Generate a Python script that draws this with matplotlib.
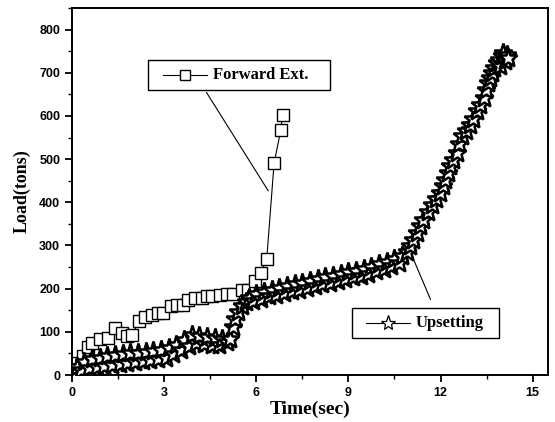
import matplotlib
matplotlib.use('Agg')
import matplotlib.pyplot as plt
from matplotlib.lines import Line2D
from matplotlib.patches import Rectangle
from matplotlib.ticker import MultipleLocator

# Forward extrusion: time (s) and load (tons)
fwd_time = [0.15, 0.36, 0.53, 0.66, 0.91, 1.18, 1.40, 1.62, 1.78, 1.96,
            2.18, 2.38, 2.60, 2.80, 2.97, 3.22, 3.41, 3.63, 3.79, 4.00,
            4.22, 4.39, 4.55, 4.82, 5.04, 5.25, 5.53, 5.74, 5.96, 6.14,
            6.34, 6.58, 6.80, 6.86]
fwd_load = [27, 44, 66, 74, 84, 86, 108, 97, 90, 93,
            125, 134, 139, 143, 143, 160, 162, 162, 174, 178,
            178, 182, 183, 186, 187, 188, 197, 196, 217, 237,
            268, 490, 568, 603]

# Upsetting: time (s) and load (tons)
ups_time = [0.05, 0.15, 0.30, 0.40, 0.55, 0.65, 0.80, 0.90, 1.05, 1.15,
            1.30, 1.40, 1.55, 1.65, 1.80, 1.90, 2.05, 2.15, 2.30, 2.40,
            2.55, 2.65, 2.80, 2.90, 3.05, 3.15, 3.30, 3.40, 3.55, 3.65,
            3.80, 3.90, 4.05, 4.15, 4.30, 4.40, 4.55, 4.65, 4.80, 4.90,
            5.05, 5.15, 5.25, 5.32, 5.42, 5.52, 5.65, 5.75, 5.90, 6.00,
            6.15, 6.25, 6.40, 6.50, 6.65, 6.75, 6.90, 7.00, 7.15, 7.25,
            7.40, 7.50, 7.65, 7.75, 7.90, 8.00, 8.15, 8.25, 8.40, 8.50,
            8.65, 8.75, 8.90, 9.00, 9.15, 9.25, 9.40, 9.50, 9.65, 9.75,
            9.90, 10.00, 10.15, 10.25, 10.40, 10.50, 10.65, 10.75, 10.90, 11.00,
            11.12, 11.23, 11.34, 11.44, 11.58, 11.72, 11.86, 11.99, 12.07, 12.15,
            12.23, 12.31, 12.42, 12.53, 12.61, 12.69, 12.83, 12.96, 13.07, 13.18,
            13.29, 13.40, 13.48, 13.56, 13.62, 13.67, 13.75, 13.83, 13.90, 13.94,
            14.00, 14.05, 14.10, 14.15, 14.20]
ups_load = [5, 18, 12, 30, 16, 36, 19, 40, 22, 44,
            24, 46, 26, 48, 28, 50, 30, 52, 32, 54,
            34, 56, 37, 58, 40, 62, 48, 70, 58, 80,
            68, 92, 74, 90, 72, 88, 70, 86, 70, 84,
            76, 84, 112, 130, 145, 160, 168, 178, 172, 188,
            176, 192, 182, 198, 186, 202, 190, 206, 194, 210,
            198, 214, 202, 218, 206, 222, 210, 226, 214, 230,
            218, 234, 222, 238, 226, 242, 230, 246, 234, 250,
            240, 256, 246, 262, 252, 268, 260, 276, 284, 298,
            312, 329, 344, 360, 377, 394, 408, 422, 437, 452,
            468, 483, 498, 514, 534, 553, 565, 578, 594, 611,
            626, 642, 660, 677, 688, 700, 712, 723, 730, 715,
            739, 746, 728, 742, 735]

serif = 'Liberation Serif'
sans = 'Liberation Sans'
W, H = 555, 422

fig = plt.figure(figsize=(W / 100, H / 100), dpi=100)
ax = fig.add_axes([72 / W, 1 - 375 / H, 476 / W, 367 / H])

ax.plot(fwd_time, fwd_load, color='black', linewidth=0.8,
        marker='s', markersize=8, markerfacecolor='white',
        markeredgecolor='black', markeredgewidth=1.0, zorder=2)
ax.plot(ups_time, ups_load, color='black', linewidth=0.5,
        marker='*', markersize=14, markerfacecolor='white',
        markeredgecolor='black', markeredgewidth=1.8, zorder=3)

ax.set_xlim(0, 15.5)
ax.set_ylim(0, 850)
ax.xaxis.set_major_locator(MultipleLocator(3))
ax.xaxis.set_minor_locator(MultipleLocator(1.5))
ax.yaxis.set_major_locator(MultipleLocator(100))
ax.yaxis.set_minor_locator(MultipleLocator(50))

for s in ax.spines.values():
    s.set_linewidth(1.4)
ax.tick_params(which='major', direction='out', length=5, width=1.3)
ax.tick_params(which='minor', direction='out', length=3, width=1.0)
for lbl in ax.get_xticklabels() + ax.get_yticklabels():
    lbl.set_fontfamily(sans)
    lbl.set_fontweight('bold')
    lbl.set_fontsize(9)

ax.set_xlabel('Time(sec)', fontfamily=serif, fontweight='bold', fontsize=14, labelpad=1)
ax.set_ylabel('Load(tons)', fontfamily=serif, fontweight='bold', fontsize=13, labelpad=6)


# legend box drawn by hand: box corners and handle span in pixels
def legend_box(x0, y0, x1, y1, hx0, hx1, label, marker, msize, mew):
    fx = lambda px: px / W
    fy = lambda py: 1 - py / H
    fig.add_artist(Rectangle((fx(x0), fy(y1)), fx(x1) - fx(x0), fy(y0) - fy(y1),
                             transform=fig.transFigure, facecolor='white',
                             edgecolor='black', linewidth=1.0, zorder=5))
    yc = fy((y0 + y1) / 2)
    fig.add_artist(Line2D([fx(hx0), fx(hx1)], [yc, yc], transform=fig.transFigure,
                          color='black', linewidth=0.8, zorder=6))
    fig.add_artist(Line2D([fx((hx0 + hx1) / 2)], [yc], transform=fig.transFigure,
                          marker=marker, markersize=msize, markerfacecolor='white',
                          markeredgecolor='black', markeredgewidth=mew, zorder=7))
    fig.text(fx(hx1 + 6), yc, label, fontfamily=serif, fontweight='bold',
             fontsize=12, va='center', ha='left', zorder=8)


legend_box(148, 60, 330, 90, 163, 207, 'Forward Ext.', 's', 7, 1.0)
legend_box(352, 308, 499, 338, 366, 410, 'Upsetting', '*', 11, 0.9)

ax.annotate('', xy=(6.44, 421), xytext=(4.33, 660),
            arrowprops=dict(arrowstyle='-', color='black', linewidth=0.8))
ax.annotate('', xy=(11.06, 278), xytext=(11.71, 169),
            arrowprops=dict(arrowstyle='-', color='black', linewidth=0.8))

fig.savefig('out.png', dpi=100)
